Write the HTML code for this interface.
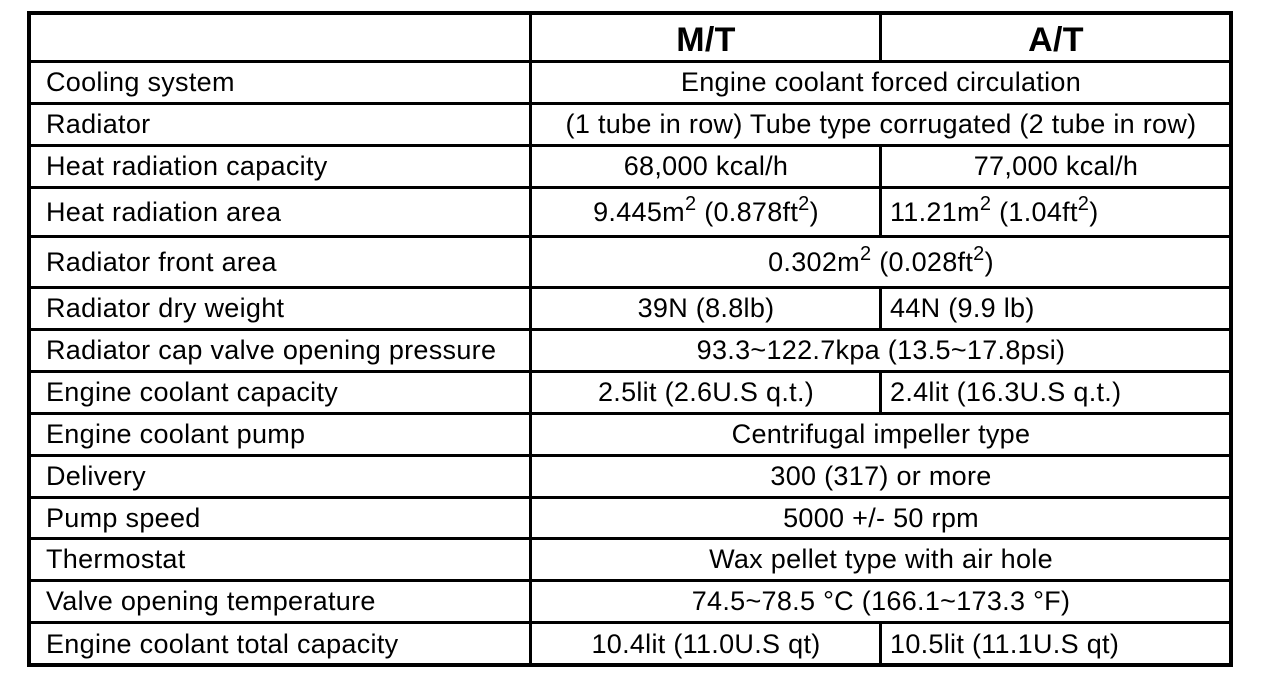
<!DOCTYPE html>
<html><head><style>
body{margin:0;width:1280px;height:690px;background:#fff;position:relative;overflow:hidden;font-family:"Liberation Sans",Arial,sans-serif;font-size:27px;letter-spacing:0.3px;color:#000}
.h{position:absolute;background:#000;height:3px}
.v{position:absolute;background:#000;width:3px}
.t{position:absolute;white-space:nowrap;display:flex;align-items:center}
.c{justify-content:center}
sup{font-size:20px;vertical-align:11px;line-height:0}
</style></head><body>
<div style="position:absolute;left:27px;top:11px;width:1198px;height:648px;border:4px solid #000"></div>
<div id="g"></div>
<script>
var rows=[
["",["M/T","A/T"],61],
["Cooling system","Engine coolant forced circulation",42],
["Radiator","(1 tube in row) Tube type corrugated (2 tube in row)",42],
["Heat radiation capacity",["68,000 kcal/h","77,000 kcal/h"],42],
["Heat radiation area",["9.445m<sup>2</sup> (0.878ft<sup>2</sup>)","11.21m<sup>2</sup> (1.04ft<sup>2</sup>)"],49,1],
["Radiator front area","0.302m<sup>2</sup> (0.028ft<sup>2</sup>)",51],
["Radiator dry weight",["39N (8.8lb)","44N (9.9 lb)"],42,1],
["Radiator cap valve opening pressure","93.3~122.7kpa (13.5~17.8psi)",42],
["Engine coolant capacity",["2.5lit (2.6U.S q.t.)","2.4lit (16.3U.S q.t.)"],42,1],
["Engine coolant pump","Centrifugal impeller type",42],
["Delivery","300 (317) or more",42],
["Pump speed","5000 +/- 50 rpm",41],
["Thermostat","Wax pellet type with air hole",42],
["Valve opening temperature","74.5~78.5 °C (166.1~173.3 °F)",42],
["Engine coolant total capacity",["10.4lit (11.0U.S qt)","10.5lit (11.1U.S qt)"],43,1]
];
var h="",y=12;
function s(x){return '<span>'+x+'</span>';}
rows.forEach(function(r,i){
 var yy=y,hh=(i==0?49:r[2]);
 if(i>0) h+='<div class="h" style="left:29px;width:1202px;top:'+(yy-1)+'px"></div>';
 var ty=yy+1,th=hh-1;
 h+='<div class="t" style="left:46px;top:'+ty+'px;height:'+th+'px">'+s(r[0])+'</div>';
 if(Array.isArray(r[1])){
  var st=i==0?'font-weight:bold;font-size:34px;':'';
  var ty2=i==0?ty+3:ty;
  h+='<div class="t c" style="'+st+'left:530px;width:352px;top:'+ty2+'px;height:'+th+'px">'+s(r[1][0])+'</div>';
  if(r[3]) h+='<div class="t" style="left:890px;top:'+ty+'px;height:'+th+'px">'+s(r[1][1])+'</div>';
  else h+='<div class="t c" style="'+st+'left:880px;width:352px;top:'+ty2+'px;height:'+th+'px">'+s(r[1][1])+'</div>';
  h+='<div class="v" style="left:879px;top:'+yy+'px;height:'+hh+'px"></div>';
 } else {
  h+='<div class="t c" style="left:530px;width:702px;top:'+ty+'px;height:'+th+'px">'+s(r[1])+'</div>';
 }
 y=yy+hh;
});
h+='<div class="v" style="left:529px;top:12px;height:652px"></div>';
document.getElementById('g').innerHTML=h;
</script>
</body></html>
